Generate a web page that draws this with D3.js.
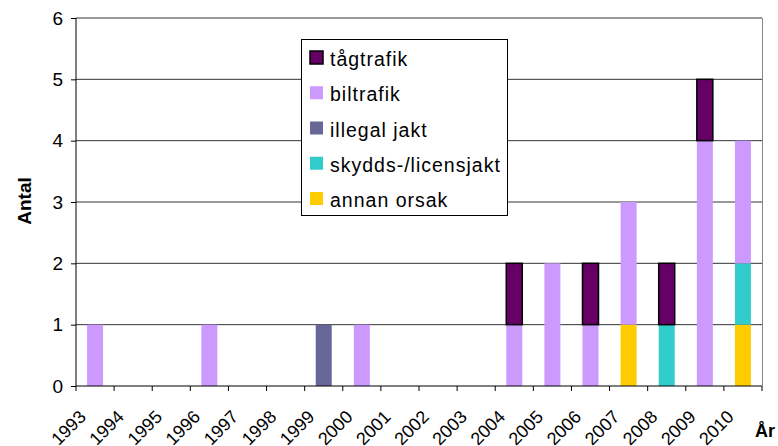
<!DOCTYPE html>
<html><head><meta charset="utf-8">
<script src="https://cdn.jsdelivr.net/npm/d3@7"></script>
<style>body{margin:0;background:#fff}text{font-family:"Liberation Sans",Arial,sans-serif}</style>
</head><body>
<svg id="c" width="778" height="446"></svg>
<script>
const years = ["1993","1994","1995","1996","1997","1998","1999","2000","2001","2002","2003","2004","2005","2006","2007","2008","2009","2010"];
const tagtrafik  = [0,0,0,0,0,0,0,0,0,0,0,1,0,1,0,1,1,0];
const biltrafik  = [1,0,0,1,0,0,0,1,0,0,0,1,2,1,2,0,4,2];
const illegalJakt= [0,0,0,0,0,0,1,0,0,0,0,0,0,0,0,0,0,0];
const skyddsJakt = [0,0,0,0,0,0,0,0,0,0,0,0,0,0,0,1,0,1];
const annanOrsak = [0,0,0,0,0,0,0,0,0,0,0,0,0,0,1,0,0,1];
const seriesNames = ["tågtrafik","biltrafik","illegal jakt","skydds-/licensjakt","annan orsak"];
const seriesColors = ["#660066","#cc99ff","#666699","#33cccc","#ffcc00"];
const yTicks = [0,1,2,3,4,5,6];

const svg = d3.select("#c");
const L = 76, R = 762, T = 18, B = 386;
const x = d3.scaleBand().domain(years).range([L, R]);
const y = d3.scaleLinear().domain([0, 6]).range([B, T]);

const valuesBySeries = [tagtrafik, biltrafik, illegalJakt, skyddsJakt, annanOrsak];
const keys = ["annan","skydds","illegal","bil","tag"];
const idx = {annan:4, skydds:3, illegal:2, bil:1, tag:0};
const table = years.map((yr,i)=>{const o={year:yr}; keys.forEach(k=>o[k]=valuesBySeries[idx[k]][i]); return o;});
const stacked = d3.stack().keys(keys)(table);

// gridlines
svg.append("g").selectAll("line").data(yTicks.filter(d=>d>0)).join("line")
  .attr("x1", L).attr("x2", R).attr("y1", d=>y(d)).attr("y2", d=>y(d))
  .attr("stroke", "#333").attr("stroke-width", 1);
svg.append("line").attr("x1", R+0.5).attr("x2", R+0.5).attr("y1", T).attr("y2", B)
  .attr("stroke", "#888");

// bars
const bw = 16;
stacked.forEach(s=>{
  const si = idx[s.key];
  svg.append("g").selectAll("rect").data(s.filter(d=>d[1]>d[0])).join("rect")
    .attr("x", d=>x(d.data.year) + x.bandwidth()/2 - bw/2)
    .attr("width", bw)
    .attr("y", d=>y(d[1]))
    .attr("height", d=>y(d[0]) - y(d[1]))
    .attr("fill", seriesColors[si])
    .attr("stroke", s.key==="tag" ? "#000" : "none")
    .attr("stroke-width", 1.5);
});

// y axis
const ya = svg.append("g").attr("transform", `translate(${L},0)`)
  .call(d3.axisLeft(y).tickValues(yTicks).tickFormat(d3.format("d")).tickSize(5).tickPadding(8));
ya.attr("font-family", null);
ya.select(".domain").attr("stroke", "#000").attr("d", `M0,${T}V${B}`);
ya.selectAll("text").attr("font-size", 19).attr("fill", "#000");
ya.selectAll("line").attr("stroke", "#000");

// x axis
const xa = svg.append("g").attr("transform", `translate(0,${B})`);
xa.append("line").attr("x1", L).attr("x2", R).attr("stroke", "#000");
const bounds = d3.range(years.length + 1).map(i => L + i * x.step());
xa.selectAll(".tk").data(bounds).join("line").attr("class","tk")
  .attr("x1", d=>d).attr("x2", d=>d).attr("y1", 0).attr("y2", 5).attr("stroke", "#000");
xa.selectAll(".lb").data(years).join("text").attr("class","lb")
  .attr("transform", d=>`translate(${x(d)+11},${32}) rotate(-45)`)
  .attr("text-anchor", "end").attr("font-size", 18).text(d=>d);

// axis titles
svg.append("text").attr("transform", "translate(31,201) rotate(-90)")
  .attr("text-anchor", "middle").attr("font-weight", "bold").attr("font-size", 19).text("Antal");
svg.append("text").attr("x", 755).attr("y", 437)
  .attr("font-weight", "bold").attr("font-size", 18).text("År");

// legend
const lg = svg.append("g");
lg.append("rect").attr("x", 301.5).attr("y", 39.5).attr("width", 206).attr("height", 176)
  .attr("fill", "#fff").attr("stroke", "#000");
const items = lg.selectAll(".it").data(seriesNames).join("g").attr("class","it")
  .attr("transform", (d,i)=>`translate(310,${51 + i*35.25})`);
items.append("rect").attr("width", 13).attr("height", 13)
  .attr("fill", (d,i)=>seriesColors[i]).attr("stroke", (d,i)=>i===0?"#000":"none").attr("stroke-width", 1.5);
items.append("text").attr("x", 20).attr("y", 15).attr("font-size", 19.5).attr("letter-spacing", 1).text(d=>d);
</script>
</body></html>
